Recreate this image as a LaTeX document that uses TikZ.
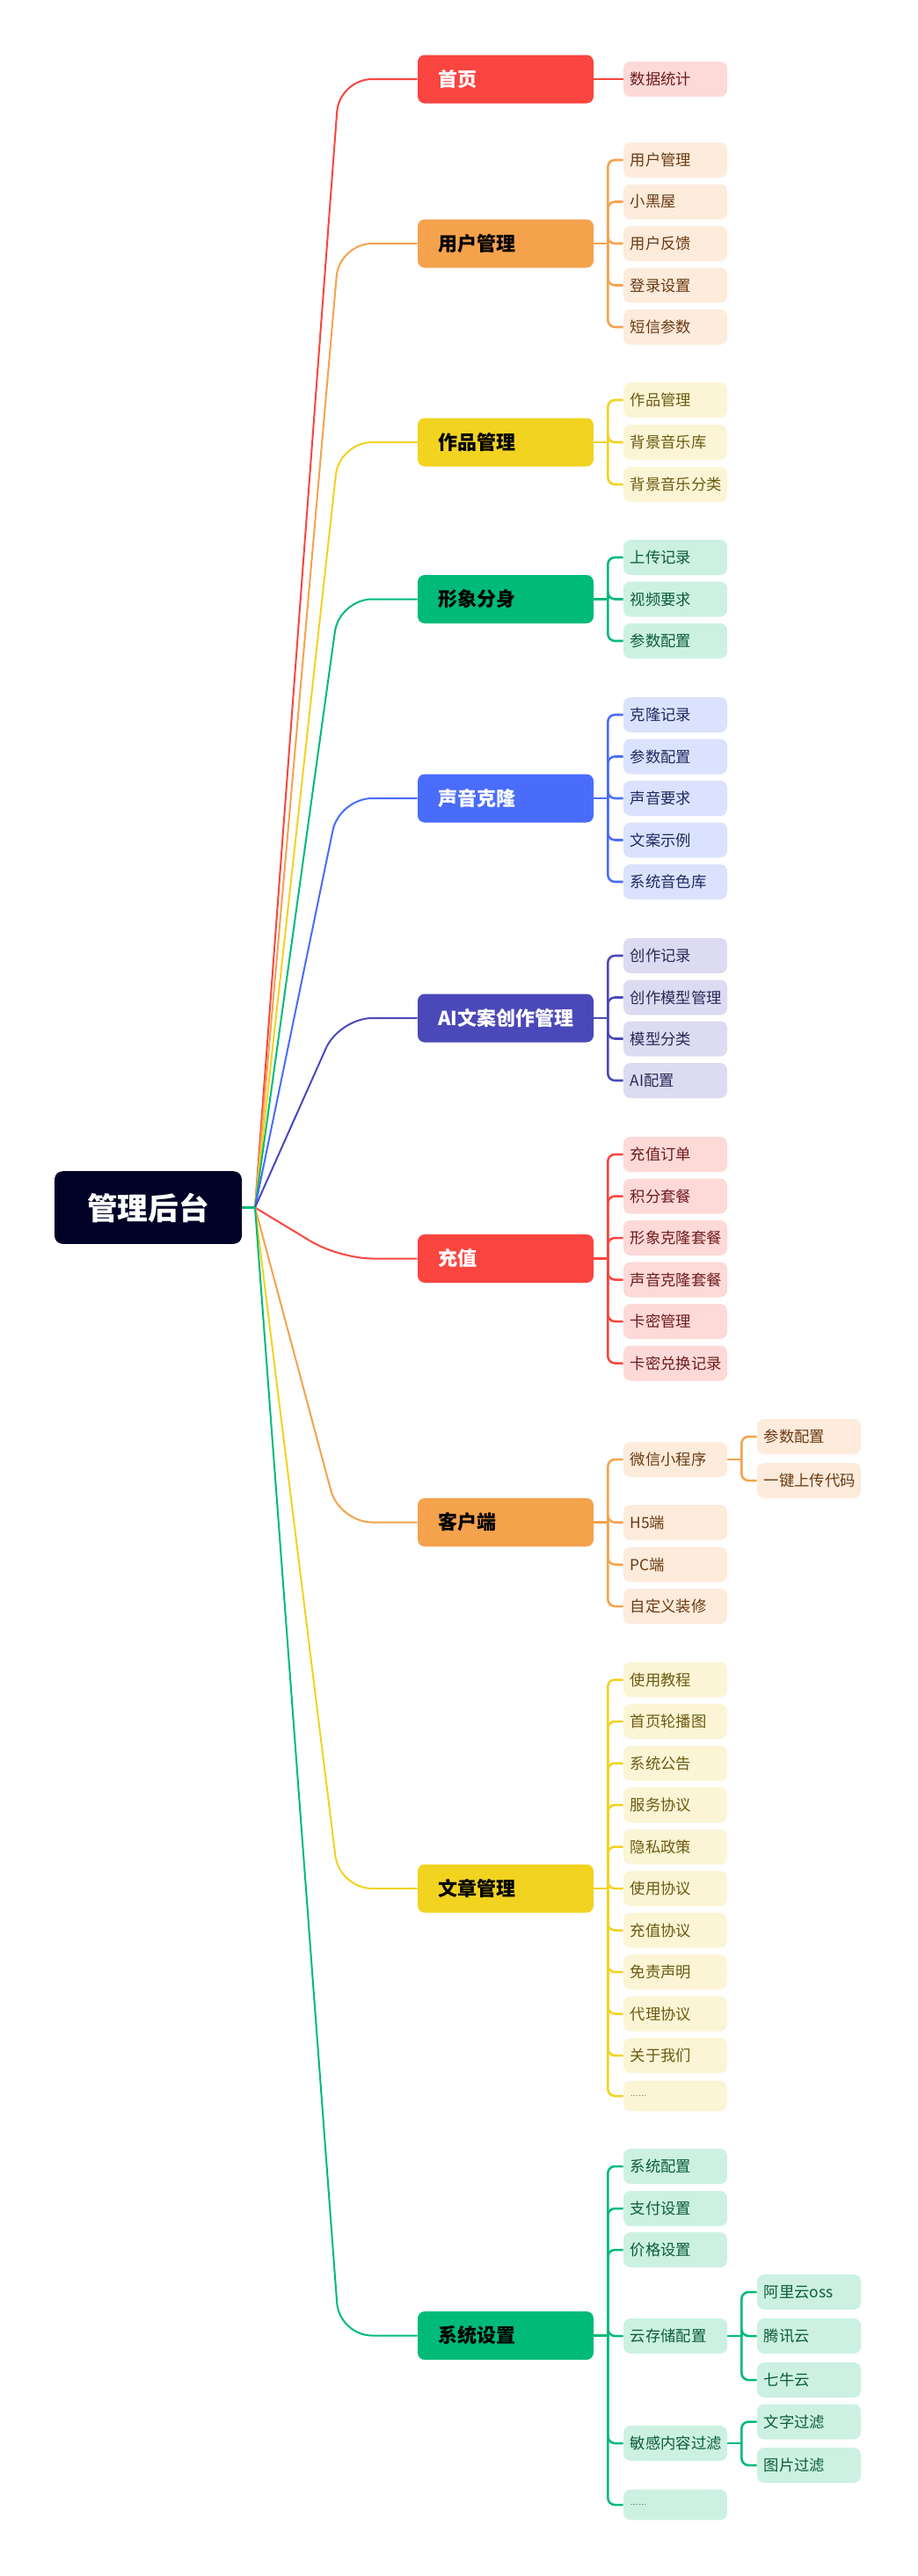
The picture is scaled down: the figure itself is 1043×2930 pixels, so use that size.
\documentclass[tikz,border=0pt]{standalone}
\usepackage{fontspec}
\setmainfont{Noto Sans CJK SC}
\newfontfamily\latinsans{Liberation Sans}
\usetikzlibrary{calc,backgrounds}
\definecolor{cRoot}{HTML}{020127}
\definecolor{cR}{HTML}{FA4540}\definecolor{cRl}{HTML}{FDD9D8}\definecolor{cRt}{HTML}{6E1C1C}
\definecolor{cO}{HTML}{F5A24D}\definecolor{cOl}{HTML}{FDEBDC}\definecolor{cOt}{HTML}{6B3A10}
\definecolor{cY}{HTML}{F1D320}\definecolor{cYl}{HTML}{FCF5D5}\definecolor{cYt}{HTML}{6B5A10}
\definecolor{cG}{HTML}{00BA7A}\definecolor{cGl}{HTML}{CCF1E2}\definecolor{cGt}{HTML}{0D5C3C}
\definecolor{cB}{HTML}{4A6CFA}\definecolor{cBl}{HTML}{DBE2FD}\definecolor{cBt}{HTML}{1F2A62}
\definecolor{cI}{HTML}{4B48B9}\definecolor{cIl}{HTML}{DCDBF1}\definecolor{cIt}{HTML}{2B2A58}
\newcommand\mmkids[3]{%
  \coordinate (#1t) at ($(#1.east)+(16,0)$);
  \draw[conn, draw=#2] (#1.east) -- (#1t);
  \foreach \c in {#3} \draw[conn, draw=#2] (#1t) |- (\c.west);}
\begin{document}
\begin{tikzpicture}[x=0.75pt,y=-0.75pt,
  rootbox/.style={fill=cRoot, rounded corners=7pt, minimum width=159.75pt, minimum height=62pt, inner sep=0pt, text=white, font=\fontsize{26pt}{28pt}\selectfont\bfseries},
  lone/.style={rounded corners=6pt, minimum width=150pt, minimum height=41.25pt, inner sep=0pt, font=\fontsize{16.5pt}{18pt}\selectfont\bfseries},
  kid/.style={rounded corners=6pt, minimum width=88.5pt, minimum height=30pt, inner sep=0pt, font=\fontsize{13pt}{15pt}\selectfont},
  dots/.style={kid, minimum height=26pt, font=\latinsans\fontsize{7pt}{8pt}\selectfont},
  famR/.style={fill=cRl, text=cRt}, famO/.style={fill=cOl, text=cOt},
  famY/.style={fill=cYl, text=cYt}, famG/.style={fill=cGl, text=cGt},
  famB/.style={fill=cBl, text=cBt}, famI/.style={fill=cIl, text=cIt},
  mainline/.style={line width=1.5pt, rounded corners=28pt},
  conn/.style={line width=1.9pt, rounded corners=6pt}]
\useasboundingbox (0,0) rectangle (1043,2930);

% root
\node[rootbox] (root) at (168.5,1373.5) {管理后台};

% level 1
\newcommand\Lone[5]{\node[lone, fill=#3, text=#4] (#1) at (575,#2) {\makebox[115.5pt][l]{#5}};}
\Lone{b1}{90}{cR}{white}{首页}
\Lone{b2}{277}{cO}{black}{用户管理}
\Lone{b3}{503}{cY}{black}{作品管理}
\Lone{b4}{681.5}{cG}{black}{形象分身}
\Lone{b5}{908}{cB}{white}{声音克隆}
\Lone{b6}{1158}{cI}{white}{AI文案创作管理}
\Lone{b7}{1431.5}{cR}{white}{充值}
\Lone{b8}{1731.5}{cO}{black}{客户端}
\Lone{b9}{2148}{cY}{black}{文章管理}
\Lone{b10}{2656.5}{cG}{black}{系统设置}

% level 2 / 3
\newcommand\Kid[5]{\node[kid, #4] (#1) at (#2,#3) {\makebox[77pt][l]{#5}};}
\Kid{k1a}{768}{90}{famR}{数据统计}

\Kid{k2a}{768}{182}{famO}{用户管理}
\Kid{k2b}{768}{229.5}{famO}{小黑屋}
\Kid{k2c}{768}{277}{famO}{用户反馈}
\Kid{k2d}{768}{324.5}{famO}{登录设置}
\Kid{k2e}{768}{372}{famO}{短信参数}

\Kid{k3a}{768}{455}{famY}{作品管理}
\Kid{k3b}{768}{503}{famY}{背景音乐库}
\Kid{k3c}{768}{551}{famY}{背景音乐分类}

\Kid{k4a}{768}{634}{famG}{上传记录}
\Kid{k4b}{768}{681.5}{famG}{视频要求}
\Kid{k4c}{768}{729}{famG}{参数配置}

\Kid{k5a}{768}{813}{famB}{克隆记录}
\Kid{k5b}{768}{860.5}{famB}{参数配置}
\Kid{k5c}{768}{908}{famB}{声音要求}
\Kid{k5d}{768}{955.5}{famB}{文案示例}
\Kid{k5e}{768}{1003}{famB}{系统音色库}

\Kid{k6a}{768}{1087}{famI}{创作记录}
\Kid{k6b}{768}{1134.5}{famI}{创作模型管理}
\Kid{k6c}{768}{1181.5}{famI}{模型分类}
\Kid{k6d}{768}{1229}{famI}{AI配置}

\Kid{k7a}{768}{1313}{famR}{充值订单}
\Kid{k7b}{768}{1360.5}{famR}{积分套餐}
\Kid{k7c}{768}{1408}{famR}{形象克隆套餐}
\Kid{k7d}{768}{1455.5}{famR}{声音克隆套餐}
\Kid{k7e}{768}{1503}{famR}{卡密管理}
\Kid{k7f}{768}{1550.5}{famR}{卡密兑换记录}

\Kid{k8a}{768}{1660}{famO}{微信小程序}
\Kid{k8b}{768}{1731.5}{famO}{H5端}
\Kid{k8c}{768}{1779.5}{famO}{PC端}
\Kid{k8d}{768}{1827}{famO}{自定义装修}
\Kid{k8aa}{920}{1634}{famO}{参数配置}
\Kid{k8ab}{920}{1684}{famO}{一键上传代码}

\Kid{k9a}{768}{1910.5}{famY}{使用教程}
\Kid{k9b}{768}{1958}{famY}{首页轮播图}
\Kid{k9c}{768}{2005.5}{famY}{系统公告}
\Kid{k9d}{768}{2053}{famY}{服务协议}
\Kid{k9e}{768}{2100.5}{famY}{隐私政策}
\Kid{k9f}{768}{2148}{famY}{使用协议}
\Kid{k9g}{768}{2195.5}{famY}{充值协议}
\Kid{k9h}{768}{2243}{famY}{免责声明}
\Kid{k9i}{768}{2290.5}{famY}{代理协议}
\Kid{k9j}{768}{2338}{famY}{关于我们}
\node[dots, famY] (k9k) at (768,2384) {\makebox[77pt][l]{……}};

\Kid{k10a}{768}{2464}{famG}{系统配置}
\Kid{k10b}{768}{2512}{famG}{支付设置}
\Kid{k10c}{768}{2559}{famG}{价格设置}
\Kid{k10d}{768}{2657}{famG}{云存储配置}
\Kid{k10e}{768}{2779}{famG}{敏感内容过滤}
\node[dots, famG] (k10f) at (768,2849) {\makebox[77pt][l]{……}};
\Kid{k10da}{920}{2607}{famG}{阿里云oss}
\Kid{k10db}{920}{2657}{famG}{腾讯云}
\Kid{k10dc}{920}{2707}{famG}{七牛云}
\Kid{k10ea}{920}{2754.5}{famG}{文字过滤}
\Kid{k10eb}{920}{2804}{famG}{图片过滤}

\begin{scope}[on background layer]
  \coordinate (J) at (290,1373.5);
  \coordinate (cx) at (386,0);
  \foreach \b/\col in {b1/cR,b2/cO,b3/cY,b4/cG,b5/cB,b6/cI,b7/cR,b8/cO,b9/cY,b10/cG}
    \draw[mainline, draw=\col] (J) -- (cx |- \b.west) -- (\b.west);
  \draw[line width=1.9pt, draw=cG] (root.east) -- (J);
  \draw[conn, draw=cR] (b1.east) -- (k1a.west);
  \mmkids{b2}{cO}{k2a,k2b,k2c,k2d,k2e}
  \mmkids{b3}{cY}{k3a,k3b,k3c}
  \mmkids{b4}{cG}{k4a,k4b,k4c}
  \mmkids{b5}{cB}{k5a,k5b,k5c,k5d,k5e}
  \mmkids{b6}{cI}{k6a,k6b,k6c,k6d}
  \mmkids{b7}{cR}{k7a,k7b,k7c,k7d,k7e,k7f}
  \mmkids{b8}{cO}{k8a,k8b,k8c,k8d}
  \mmkids{k8a}{cO}{k8aa,k8ab}
  \mmkids{b9}{cY}{k9a,k9b,k9c,k9d,k9e,k9f,k9g,k9h,k9i,k9j,k9k}
  \mmkids{b10}{cG}{k10a,k10b,k10c,k10d,k10e,k10f}
  \mmkids{k10d}{cG}{k10da,k10db,k10dc}
  \mmkids{k10e}{cG}{k10ea,k10eb}
\end{scope}
\end{tikzpicture}
\end{document}
